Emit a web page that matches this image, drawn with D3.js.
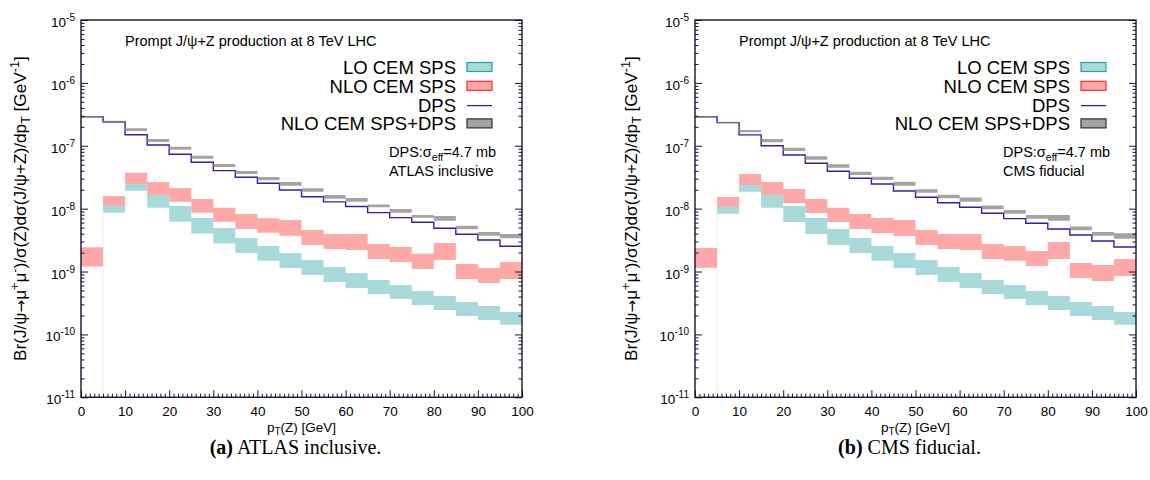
<!DOCTYPE html>
<html><head><meta charset="utf-8">
<script src="https://cdn.jsdelivr.net/npm/d3@7"></script>
<style>
body{margin:0;background:#fff}
svg{display:block}
text{font-family:"Liberation Sans",Arial,Helvetica,sans-serif;fill:#000}
</style></head>
<body><svg id="c" width="1150" height="480"></svg>
<script>
// ---------- data ----------
const bins = [0,5,10,15,20,25,30,35,40,45,50,55,60,65,70,75,80,85,90,95];
const binEnd = 100;
const xTicks = [0,10,20,30,40,50,60,70,80,90,100];
const yExps = [-5,-6,-7,-8,-9,-10,-11];

const atlasDps   = [2.90e-7,2.39e-7,1.50e-7,1.03e-7,7.33e-8,5.47e-8,4.02e-8,3.15e-8,2.53e-8,1.98e-8,1.55e-8,1.28e-8,1.08e-8,8.63e-9,7.19e-9,6.08e-9,4.88e-9,3.92e-9,3.18e-9,2.52e-9];
const atlasTotHi = [2.98e-7,2.51e-7,1.90e-7,1.28e-7,9.68e-8,6.97e-8,5.14e-8,3.97e-8,3.19e-8,2.65e-8,2.11e-8,1.65e-8,1.48e-8,1.16e-8,9.89e-9,7.94e-9,7.66e-9,5.37e-9,4.27e-9,3.96e-9];
const atlasTotLo = [2.82e-7,2.33e-7,1.72e-7,1.15e-7,8.67e-8,6.24e-8,4.60e-8,3.56e-8,2.83e-8,2.32e-8,1.86e-8,1.44e-8,1.29e-8,1.05e-8,8.63e-9,7.19e-9,6.44e-9,4.70e-9,3.72e-9,3.38e-9];
const atlasNloHi = [2.43e-9,1.59e-8,3.73e-8,2.65e-8,2.13e-8,1.43e-8,1.03e-8,8.24e-9,7.03e-9,6.61e-9,4.58e-9,3.96e-9,3.96e-9,2.75e-9,2.46e-9,1.91e-9,2.85e-9,1.32e-9,1.14e-9,1.42e-9];
const atlasNloLo = [1.20e-9,1.10e-8,2.47e-8,1.65e-8,1.29e-8,8.63e-9,6.21e-9,4.75e-9,4.15e-9,3.72e-9,2.65e-9,2.29e-9,2.20e-9,1.58e-9,1.42e-9,1.10e-9,1.53e-9,7.62e-10,6.59e-10,7.62e-10];
const atlasLoHi  = [null,1.10e-8,2.47e-8,1.65e-8,1.10e-8,7.11e-9,4.93e-9,3.42e-9,2.55e-9,1.98e-9,1.53e-9,1.18e-9,9.51e-10,7.35e-10,6.12e-10,4.92e-10,4.09e-10,3.29e-10,2.84e-10,2.28e-10];
const atlasLoLo  = [null,8.63e-9,1.93e-8,1.03e-8,6.21e-9,4.01e-9,2.78e-9,1.98e-9,1.48e-9,1.14e-9,8.83e-10,6.84e-10,5.48e-10,4.41e-10,3.66e-10,2.94e-10,2.45e-10,1.97e-10,1.70e-10,1.42e-10];

const cmsDps   = [2.90e-7,2.33e-7,1.49e-7,1.00e-7,7.14e-8,5.27e-8,3.94e-8,3.04e-8,2.47e-8,1.91e-8,1.52e-8,1.24e-8,1.05e-8,8.45e-9,6.93e-9,5.86e-9,4.75e-9,3.82e-9,3.06e-9,2.46e-9];
const cmsTotHi = [2.98e-7,2.42e-7,1.78e-7,1.28e-7,9.33e-8,6.81e-8,5.08e-8,3.87e-8,3.23e-8,2.69e-8,2.03e-8,1.67e-8,1.50e-8,1.12e-8,9.53e-9,7.94e-9,7.94e-9,5.18e-9,4.27e-9,4.06e-9];
const cmsTotLo = [2.82e-7,2.28e-7,1.64e-7,1.14e-7,8.26e-8,6.01e-8,4.49e-8,3.44e-8,2.86e-8,2.32e-8,1.79e-8,1.46e-8,1.29e-8,9.77e-9,8.32e-9,6.93e-9,6.44e-9,4.54e-9,3.72e-9,3.33e-9];
const cmsNloHi = [2.37e-9,1.53e-8,3.56e-8,2.65e-8,2.06e-8,1.43e-8,1.03e-8,8.24e-9,7.11e-9,6.61e-9,4.58e-9,3.96e-9,3.96e-9,2.75e-9,2.55e-9,2.13e-9,2.96e-9,1.37e-9,1.27e-9,1.58e-9];
const cmsNloLo = [1.15e-9,1.06e-8,2.38e-8,1.65e-8,1.23e-8,8.55e-9,6.15e-9,4.75e-9,4.11e-9,3.68e-9,2.65e-9,2.29e-9,2.20e-9,1.58e-9,1.48e-9,1.23e-9,1.58e-9,7.91e-10,7.10e-10,8.51e-10];
const cmsLoHi  = [null,1.06e-8,2.38e-8,1.65e-8,1.10e-8,7.11e-9,4.75e-9,3.42e-9,2.55e-9,1.98e-9,1.53e-9,1.18e-9,9.51e-10,7.35e-10,6.12e-10,4.92e-10,4.09e-10,3.29e-10,2.84e-10,2.28e-10];
const cmsLoLo  = [null,8.32e-9,1.85e-8,1.03e-8,6.15e-9,3.96e-9,2.65e-9,1.98e-9,1.48e-9,1.14e-9,8.83e-10,6.84e-10,5.48e-10,4.41e-10,3.66e-10,2.94e-10,2.45e-10,1.97e-10,1.70e-10,1.42e-10];

const legendLabels = ["LO CEM SPS","NLO CEM SPS","DPS","NLO CEM SPS+DPS"];
const titleText = "Prompt J/ψ+Z production at 8 TeV LHC";

// ---------- styles ----------
const C = {lo:"#a8dadb", loEdge:"#1ea3a3", nlo:"#ffa8a8", nloEdge:"#ff2a2a",
           dps:"#2a22ad", tot:"#8a8a8a", totLeg:"#a3a3a3", totEdge:"#2e2e2e", axis:"#15152e"};

const svg = d3.select("#c");
const Y0 = 20, Y1 = 397.3;

const panels = [
  {x0:81, x1:522, ylabX:26, note:"ATLAS inclusive", capTag:"(a)", capText:" ATLAS inclusive.",
   dps:atlasDps, totHi:atlasTotHi, totLo:atlasTotLo, nloHi:atlasNloHi, nloLo:atlasNloLo, loHi:atlasLoHi, loLo:atlasLoLo},
  {x0:695, x1:1136, ylabX:637, note:"CMS fiducial", capTag:"(b)", capText:" CMS fiducial.",
   dps:cmsDps, totHi:cmsTotHi, totLo:cmsTotLo, nloHi:cmsNloHi, nloLo:cmsNloLo, loHi:cmsLoHi, loLo:cmsLoLo}
];

panels.forEach((p, pi) => {
  const x = d3.scaleLinear().domain([0,100]).range([p.x0,p.x1]);
  const y = d3.scaleLog().domain([1e-11,1e-5]).range([Y1,Y0]);
  const g = svg.append("g");
  const clipId = "clip"+pi;
  g.append("clipPath").attr("id",clipId).append("rect")
    .attr("x",p.x0).attr("y",Y0).attr("width",p.x1-p.x0).attr("height",Y1-Y0);
  const plot = g.append("g").attr("clip-path",`url(#${clipId})`);

  const steps = (hi, lo) => {
    const a = bins.map((b,i)=>({x:b, hi:hi[i], lo:lo ? lo[i] : null}));
    a.push({x:binEnd, hi:hi[hi.length-1], lo:lo ? lo[lo.length-1] : null});
    return a;
  };
  const area = d3.area().curve(d3.curveStepAfter).defined(d=>d.hi!=null)
    .x(d=>x(d.x)).y0(d=>y(d.lo)).y1(d=>y(d.hi));
  const line = d3.line().curve(d3.curveStepAfter).x(d=>x(d.x)).y(d=>y(d.hi));

  // faint edge of LO band in first bin (drops to zero)
  plot.append("line").attr("x1",x(bins[1])).attr("x2",x(bins[1]))
    .attr("y1",y(p.loLo[1])).attr("y2",Y1).attr("stroke","#e3f2f2").attr("stroke-width",1);

  plot.append("path").datum(steps(p.nloHi,p.nloLo)).attr("d",area).attr("fill",C.nlo);
  plot.append("path").datum(steps(p.loHi,p.loLo)).attr("d",area).attr("fill",C.lo);
  plot.append("path").datum(steps(p.dps,null)).attr("d",line).attr("fill","none")
    .attr("stroke",C.dps).attr("stroke-width",1.4);
  plot.append("path").datum(steps(p.totHi,p.totLo)).attr("d",area).attr("fill",C.tot).attr("fill-opacity",0.78);

  // ---- axes ----
  const xMinor = d3.range(0,101,1).filter(v=>v%10!==0);
  const yMinor = [];
  for (let e=-11;e<-5;e++) for (let k=2;k<=9;k++) yMinor.push(k*Math.pow(10,e));
  const yMajor = yExps.map(e=>Math.pow(10,e));

  const ax = g.append("g").attr("class","axes");
  const xa = ax.append("g").attr("transform",`translate(0,${Y1})`)
    .call(d3.axisBottom(x).tickValues(xTicks).tickSize(-7).tickPadding(9).tickFormat(d=>d));
  xa.selectAll("text").attr("font-size",13.5).attr("font-family","Liberation Sans, Arial, sans-serif");
  ax.append("g").attr("transform",`translate(0,${Y1})`)
    .call(d3.axisBottom(x).tickValues(xMinor).tickSize(-3.5).tickFormat(""));
  ax.append("g").attr("transform",`translate(${p.x0},0)`)
    .call(d3.axisLeft(y).tickValues(yMajor).tickSize(-7).tickFormat(""));
  ax.append("g").attr("transform",`translate(${p.x0},0)`)
    .call(d3.axisLeft(y).tickValues(yMinor).tickSize(-3.5).tickFormat(""));
  ax.append("g").attr("transform",`translate(${p.x1},0)`)
    .call(d3.axisRight(y).tickValues(yMajor).tickSize(-7).tickFormat(""));
  ax.append("g").attr("transform",`translate(${p.x1},0)`)
    .call(d3.axisRight(y).tickValues(yMinor).tickSize(-3.5).tickFormat(""));
  ax.selectAll(".domain").remove();
  ax.selectAll(".tick line").attr("stroke",C.axis).attr("stroke-width",1);
  g.append("rect").attr("x",p.x0).attr("y",Y0).attr("width",p.x1-p.x0).attr("height",Y1-Y0)
    .attr("fill","none").attr("stroke",C.axis).attr("stroke-width",1.4);

  // y tick labels 10^n
  g.selectAll(".ytl").data(yExps).join("text").attr("class","ytl")
    .attr("x",p.x0-6).attr("y",d=>y(Math.pow(10,d))+7).attr("text-anchor","end")
    .attr("font-size",13.5)
    .each(function(d){
      const t=d3.select(this);
      t.append("tspan").text("10");
      t.append("tspan").attr("font-size",10).attr("dy",-6).text(String(d));
    });

  // x label
  const xl = g.append("text").attr("x",(p.x0+p.x1)/2).attr("y",432).attr("text-anchor","middle").attr("font-size",13.5);
  xl.append("tspan").text("p");
  xl.append("tspan").attr("font-size",10).attr("dy",3).text("T");
  xl.append("tspan").attr("dy",-3).text("(Z) [GeV]");

  // y label
  const yt = g.append("text").attr("transform",`translate(${p.ylabX},${(Y0+Y1)/2}) rotate(-90)`)
    .attr("text-anchor","middle").attr("font-size",17.2);
  const parts = [
    ["Br(J/ψ",0,null,0,null],["→",0,15,0,"DejaVu Sans"],["μ",0,null,0,null],["+",-7,12.5,0,null],["μ",7,null,0,null],["-",-7,12.5,0,null],
    [")/σ(Z)dσ(J/ψ+Z)/dp",7,null,0,null],["T",4,12.5,0,null],[" [GeV",-4,null,0,null],["-1",-7,12.5,0,null],["]",7,null,0,null]
  ];
  parts.forEach(([s,dy,fs,dx,ff])=>{
    const ts = yt.append("tspan").attr("dy",dy).text(s);
    if (dx) ts.attr("dx",dx);
    if (fs) ts.attr("font-size",fs);
    if (ff) ts.style("font-family",ff);
  });

  // title
  g.append("text").attr("x",p.x0+44).attr("y",46).attr("font-size",14.5).text(titleText);

  // legend
  const lg = g.append("g");
  const rowY = [74,92.8,111.6,130.4];
  legendLabels.forEach((lab,i)=>{
    lg.append("text").attr("x",p.x0+375).attr("y",rowY[i]).attr("text-anchor","end")
      .attr("font-size",18.5).text(lab);
  });
  const sx = p.x0+386, sw = 25, sh = 9;
  lg.append("rect").attr("x",sx).attr("y",rowY[0]-11.5).attr("width",sw).attr("height",sh)
    .attr("fill",C.lo).attr("stroke",C.loEdge).attr("stroke-width",1.2);
  lg.append("rect").attr("x",sx).attr("y",rowY[1]-11.5).attr("width",sw).attr("height",sh)
    .attr("fill",C.nlo).attr("stroke",C.nloEdge).attr("stroke-width",1.2);
  lg.append("line").attr("x1",sx).attr("x2",sx+sw).attr("y1",rowY[2]-6).attr("y2",rowY[2]-6)
    .attr("stroke",C.dps).attr("stroke-width",1.3);
  lg.append("rect").attr("x",sx).attr("y",rowY[3]-11.5).attr("width",sw).attr("height",sh)
    .attr("fill",C.totLeg).attr("stroke",C.totEdge).attr("stroke-width",1.2);

  // annotations
  const a1 = g.append("text").attr("x",p.x0+308).attr("y",157).attr("font-size",14.5);
  a1.append("tspan").text("DPS:σ");
  a1.append("tspan").attr("font-size",10.5).attr("dy",4).text("eff");
  a1.append("tspan").attr("dy",-4).text("=4.7 mb");
  g.append("text").attr("x",p.x0+308).attr("y",176).attr("font-size",14.5).text(p.note);

  // caption
  const cap = g.append("text").attr("x",(p.x0+p.x1)/2 - 6).attr("y",454).attr("text-anchor","middle")
    .attr("font-size",20).style("font-family","'Liberation Serif','Times New Roman',serif");
  cap.append("tspan").attr("font-weight","bold").text(p.capTag);
  cap.append("tspan").text(p.capText);
});
</script>
</body></html>
